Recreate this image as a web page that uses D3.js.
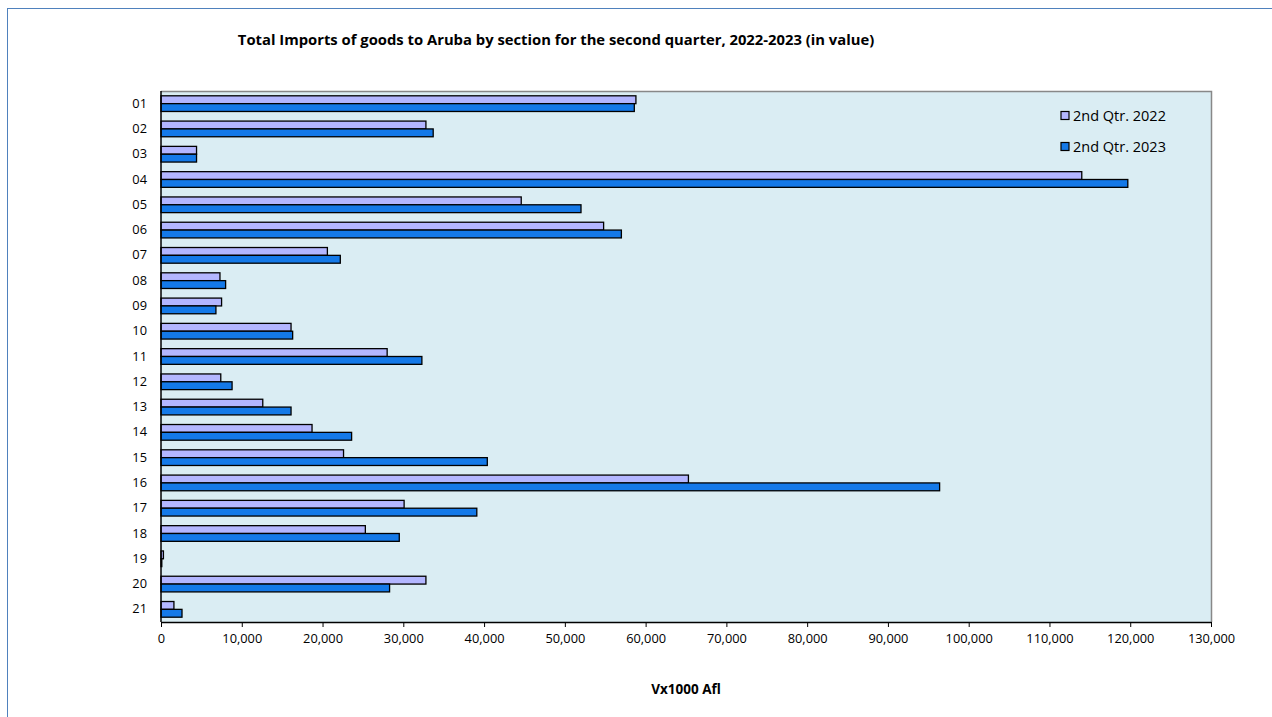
<!DOCTYPE html>
<html>
<head>
<meta charset="utf-8">
<script src="https://cdn.jsdelivr.net/npm/d3@7"></script>
<style>
  html, body { margin: 0; padding: 0; background: #fff; }
  svg { display: block; }
  text { font-family: "Open Sans", "Liberation Sans", sans-serif; }
</style>
</head>
<body>
<svg id="chart" width="1272" height="717"></svg>
<script>
const title = "Total Imports of goods to Aruba by section for the second quarter, 2022-2023 (in value)";
const xAxisTitle = "Vx1000 Afl";
const categories = ["01","02","03","04","05","06","07","08","09","10","11","12","13","14","15","16","17","18","19","20","21"];
const seriesNames = ["2nd Qtr. 2022", "2nd Qtr. 2023"];
const values2022 = [58800, 32800, 4400, 114000, 44600, 54800, 20600, 7300, 7500, 16100, 28000, 7400, 12600, 18700, 22600, 65300, 30100, 25300, 300, 32800, 1600];
const values2023 = [58600, 33700, 4400, 119700, 52000, 57000, 22200, 8000, 6800, 16300, 32300, 8800, 16100, 23600, 40400, 96400, 39100, 29500, 100, 28300, 2600];
const xTicks = [0,10000,20000,30000,40000,50000,60000,70000,80000,90000,100000,110000,120000,130000];
const colors = ["#B3B6FF", "#1479E8"];

const svg = d3.select("#chart");

// outer chart border
svg.append("rect").attr("x", 7.5).attr("y", 8.5).attr("width", 1270).attr("height", 720)
  .attr("fill", "#fff").attr("stroke", "#4F81BD").attr("stroke-width", 1);

const plot = { left: 161, right: 1211, top: 91, bottom: 622 };

const x = d3.scaleLinear().domain([0, 130000]).range([plot.left, plot.right]);
const y = d3.scaleBand().domain(categories).range([plot.top, plot.bottom]).paddingInner(0.38).paddingOuter(0.19);
const ySub = d3.scaleBand().domain(seriesNames).range([0, y.bandwidth()]);

// plot background
svg.append("rect").attr("x", plot.left).attr("y", plot.top)
  .attr("width", plot.right - plot.left).attr("height", plot.bottom - plot.top)
  .attr("fill", "#DAEDF3");
// top & right plot border
svg.append("path")
  .attr("d", `M${plot.left},${plot.top + 0.5}H${plot.right + 0.5}V${plot.bottom}`)
  .attr("fill", "none").attr("stroke", "#888").attr("stroke-width", 1.5);

// title
svg.append("text").attr("x", 556).attr("y", 45).attr("text-anchor", "middle")
  .attr("font-size", 14.8).attr("font-weight", "bold").attr("fill", "#000").text(title);

// bars
const data = categories.map((c, i) => ({ cat: c, vals: [values2022[i], values2023[i]] }));
const groups = svg.append("g").selectAll("g").data(data).join("g")
  .attr("transform", d => `translate(0,${y(d.cat)})`);
groups.selectAll("rect").data(d => d.vals.map((v, k) => ({ v, k })))
  .join("rect")
  .attr("x", x(0))
  .attr("y", d => ySub(seriesNames[d.k]))
  .attr("width", d => x(d.v) - x(0))
  .attr("height", ySub.bandwidth())
  .attr("fill", d => colors[d.k])
  .attr("stroke", "#000").attr("stroke-width", 1.3);

// x axis
const xAxis = d3.axisBottom(x).tickValues(xTicks).tickSize(5).tickSizeOuter(0)
  .tickFormat(d3.format(","));
const gx = svg.append("g").attr("transform", `translate(0,${plot.bottom})`).call(xAxis);
gx.select(".domain").attr("stroke", "#000").attr("stroke-width", 1.5);
gx.selectAll(".tick line").attr("stroke", "#000");
gx.selectAll(".tick text").attr("font-size", 12.8).attr("dy", "1.05em")
  .attr("font-family", "'Open Sans', sans-serif").attr("fill", "#000");

// y axis
const yAxis = d3.axisLeft(y).tickSize(0).tickPadding(14);
const gy = svg.append("g").attr("transform", `translate(${plot.left},0)`).call(yAxis);
gy.select(".domain").attr("stroke", "#000").attr("stroke-width", 1.5)
  .attr("d", `M0,${plot.top}V${plot.bottom}`);
gy.selectAll(".tick text").attr("font-size", 12.8).attr("fill", "#000")
  .attr("font-family", "'Open Sans', sans-serif");

// x axis title
svg.append("text").attr("x", (plot.left + plot.right) / 2).attr("y", 694)
  .attr("text-anchor", "middle").attr("font-size", 13.5).attr("font-weight", "bold")
  .attr("fill", "#000").text(xAxisTitle);

// legend
const legend = svg.append("g").attr("transform", "translate(1061,121)");
seriesNames.forEach((name, i) => {
  const g = legend.append("g").attr("transform", `translate(0,${i * 31})`);
  g.append("rect").attr("x", 0).attr("y", -9.5).attr("width", 8).attr("height", 8)
    .attr("fill", colors[i]).attr("stroke", "#000").attr("stroke-width", 1.2);
  g.append("text").attr("x", 12).attr("y", 0).attr("font-size", 14.5).attr("fill", "#000").text(name);
});
</script>
</body>
</html>
